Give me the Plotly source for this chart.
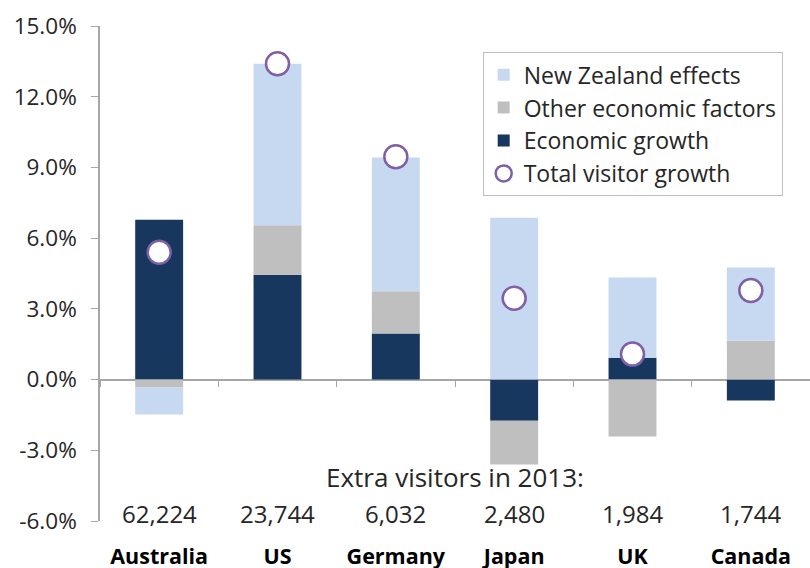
import plotly.graph_objects as go

countries = ["Australia", "US", "Germany", "Japan", "UK", "Canada"]
extra_visitors = ["62,224", "23,744", "6,032", "2,480", "1,984", "1,744"]

# contributions to visitor growth, percentage points
economic_growth = [6.78, 4.45, 1.95, -1.75, 0.93, -0.89]
other_factors = [-0.34, 2.10, 1.80, -1.85, -2.42, 1.65]
nz_effects = [-1.14, 6.85, 5.67, 6.87, 3.40, 3.10]
total_growth = [5.4, 13.4, 9.45, 3.45, 1.08, 3.78]

y_tick_values = [-6, -3, 0, 3, 6, 9, 12, 15]
y_tick_labels = ["-6.0%", "-3.0%", "0.0%", "3.0%", "6.0%", "9.0%", "12.0%", "15.0%"]

FONT = "Open Sans"
TEXT = "#262626"
AXIS = "#a6a6a6"

fig = go.Figure()

# markers first so the reversed legend lists them last; scatter still renders above bars
fig.add_trace(go.Scatter(
    x=countries, y=total_growth, mode="markers", name="Total visitor growth",
    marker=dict(size=23, color="white", line=dict(color="#7f5fa6", width=2.5)),
    cliponaxis=False,
))
fig.add_trace(go.Bar(x=countries, y=economic_growth, name="Economic growth",
                     marker=dict(color="#17375e", line=dict(width=0)), width=0.405))
fig.add_trace(go.Bar(x=countries, y=other_factors, name="Other economic factors",
                     marker=dict(color="#bfbfbf", line=dict(width=0)), width=0.405))
fig.add_trace(go.Bar(x=countries, y=nz_effects, name="New Zealand effects",
                     marker=dict(color="#c6d9f1", line=dict(width=0)), width=0.405))

# invisible trace carrying the zero-line axis with boundary ticks
fig.add_trace(go.Scatter(x=countries, y=[0] * len(countries), xaxis="x2",
                         mode="markers", marker=dict(opacity=0),
                         showlegend=False, hoverinfo="skip"))

fig.add_annotation(x=2.5, y=-4.15, xref="x", yref="y", text="Extra visitors in 2013:",
                   showarrow=False, font=dict(family=FONT, size=26, color=TEXT))
for c, v in zip(countries, extra_visitors):
    fig.add_annotation(x=c, y=-5.7, xref="x", yref="y", text=v, showarrow=False,
                       font=dict(family=FONT, size=24, color=TEXT))

fig.update_layout(
    width=810, height=568,
    margin=dict(l=100, r=0, t=26, b=47, autoexpand=False),
    paper_bgcolor="white", plot_bgcolor="white",
    barmode="relative",
    font=dict(family=FONT, color=TEXT),
    xaxis=dict(type="category", categoryorder="array", categoryarray=countries,
               showline=False, ticks="", showgrid=False, zeroline=False,
               automargin=False,
               tickfont=dict(family=FONT, size=21.5, color="#000000", weight="bold"),
               ticklabelstandoff=20, range=[-0.5, 5.5]),
    xaxis2=dict(type="category", categoryorder="array", categoryarray=countries,
                overlaying="x", anchor="free", position=6 / 21, matches="x",
                showline=True, linecolor=AXIS, linewidth=1.5, layer="below traces",
                ticks="outside", tickson="boundaries", ticklen=7, tickcolor=AXIS,
                showticklabels=False, showgrid=False, zeroline=False, automargin=False),
    yaxis=dict(range=[-6, 15], tickvals=y_tick_values, ticktext=y_tick_labels,
               showline=True, linecolor=AXIS, linewidth=1.5,
               ticks="outside", ticklen=7, tickcolor=AXIS, automargin=False,
               showgrid=False, zeroline=False, ticklabelstandoff=10,
               tickfont=dict(family=FONT, size=22.5, color=TEXT)),
    legend=dict(x=0.539, y=0.947, xanchor="left", yanchor="top",
                traceorder="reversed", bgcolor="white",
                bordercolor="#bfbfbf", borderwidth=1,
                font=dict(family=FONT, size=23, color=TEXT),
                itemwidth=30),
    showlegend=True,
)

fig.write_html("out.html")
